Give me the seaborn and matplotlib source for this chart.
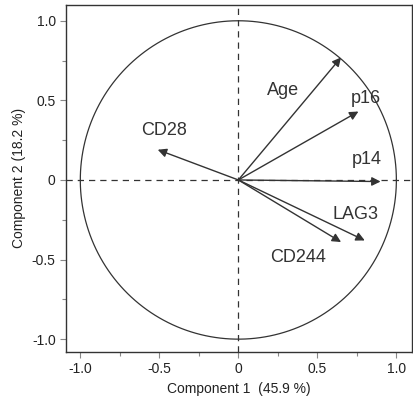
import numpy as np
import matplotlib
matplotlib.use('Agg')
import matplotlib.pyplot as plt
import seaborn as sns
from matplotlib.ticker import MultipleLocator

names = ['Age', 'p16', 'p14', 'LAG3', 'CD244', 'CD28']
pc1 = [0.65, 0.76, 0.90, 0.80, 0.65, -0.51]
pc2 = [0.77, 0.43, -0.01, -0.38, -0.39, 0.19]
label_x = [0.28, 0.81, 0.81, 0.74, 0.38, -0.47]
label_y = [0.56, 0.51, 0.13, -0.22, -0.49, 0.31]

sns.set_style('white')
plt.rcParams['font.family'] = ['Liberation Sans', 'DejaVu Sans']

fig = plt.figure(figsize=(4.13, 4.04), dpi=100)
ax = fig.add_axes([0.16, 0.129, 0.838, 0.859])

theta = np.linspace(0, 2 * np.pi, 400)
sns.lineplot(x=np.cos(theta), y=np.sin(theta), sort=False, estimator=None,
             color='#333333', lw=0.9, ax=ax)
ax.axhline(0, color='#333333', ls='--', lw=0.9, dashes=(5, 4))
ax.axvline(0, color='#333333', ls='--', lw=0.9, dashes=(5, 4))

for n, x, y, lx, ly in zip(names, pc1, pc2, label_x, label_y):
    ax.annotate('', xy=(x, y), xytext=(0, 0),
                arrowprops=dict(arrowstyle='-|>', color='#333333', lw=1.0,
                                mutation_scale=13, shrinkA=0, shrinkB=0))
    ax.text(lx, ly, n, fontsize=13, color='#333333', ha='center', va='center')

ax.set_xlim(-1.09, 1.1)
ax.set_ylim(-1.08, 1.1)
ticks = [-1.0, -0.5, 0, 0.5, 1.0]
ticklabels = ['-1.0', '-0.5', '0', '0.5', '1.0']
ax.set_xticks(ticks)
ax.set_xticklabels(ticklabels)
ax.set_yticks(ticks)
ax.set_yticklabels(ticklabels)
ax.xaxis.set_minor_locator(MultipleLocator(0.25))
ax.yaxis.set_minor_locator(MultipleLocator(0.25))
ax.tick_params(which='both', direction='out', length=4, width=0.8, color='#888888',
               labelsize=10, labelcolor='#222222', bottom=True, left=True)
ax.tick_params(which='minor', length=3)
for s in ax.spines.values():
    s.set_color('#333333')
    s.set_linewidth(1.0)
ax.set_xlabel('Component 1  (45.9 %)', fontsize=10, color='#222222')
ax.set_ylabel('Component 2 (18.2 %)', fontsize=10, color='#222222')
fig.savefig('out.png', dpi=100)
